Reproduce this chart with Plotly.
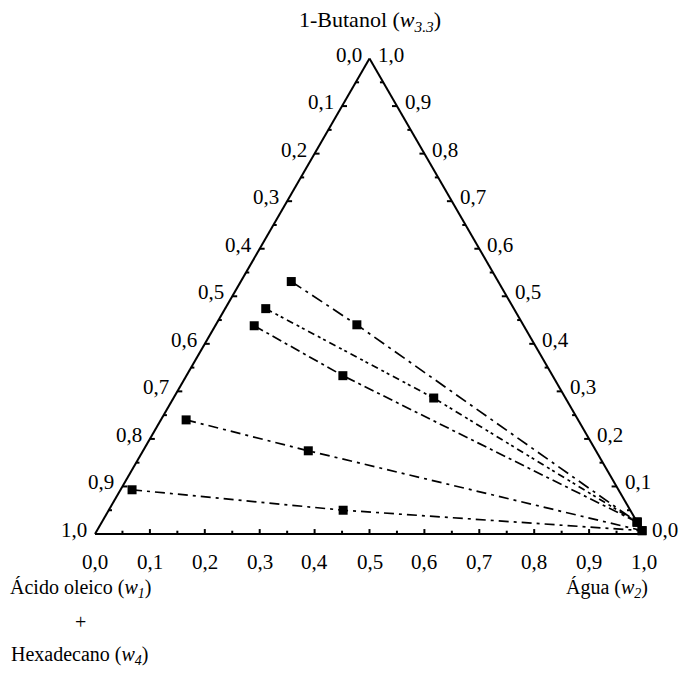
import math
import plotly.graph_objects as go

# Liquid-liquid equilibrium tie lines: mass fractions of water (w2) and 1-butanol (w3.3);
# the remainder is oleic acid + hexadecane (w1 + w4).
organic_w2 = [0.092, 0.074, 0.071, 0.046, 0.021]
organic_w3 = [0.531, 0.474, 0.438, 0.240, 0.093]
feed_w2 = [0.257, 0.474, 0.285, 0.301, 0.427]
feed_w3 = [0.440, 0.286, 0.333, 0.175, 0.050]
aqueous_w2 = [0.975, 0.975, 0.975, 0.993, 0.993]
aqueous_w3 = [0.025, 0.025, 0.025, 0.007, 0.007]

tie_dashes = ["12px,5px,3px,5px", "7px,4px,3px,3px,3px,4px", "10px,4px,3px,4px",
              "10px,5px,3px,5px", "10px,5px,3px,5px"]

tick_values = [i / 10 for i in range(11)]
tick_labels = ["0,0", "0,1", "0,2", "0,3", "0,4", "0,5", "0,6", "0,7", "0,8", "0,9", "1,0"]

H = math.sqrt(3) / 2
FONT = "Liberation Serif"
FS_TICK = 21
FS_TITLE = 22
FS_LABEL = 20


def to_xy(w2, w3):
    """Ternary composition -> Cartesian coordinates in the equilateral triangle."""
    return w2 + w3 / 2, w3 * H


fig = go.Figure()

# Triangle frame and inward ticks (every 0.05, longer at every 0.1)
fx, fy = [], []
for a, b in [((0, 0), (1, 0)), ((1, 0), (0, 1)), ((0, 1), (0, 0))]:
    x0, y0 = to_xy(*a)
    x1, y1 = to_xy(*b)
    fx += [x0, x1, None]
    fy += [y0, y1, None]
for k in range(1, 20):
    t = k / 20
    L = 0.009 if k % 2 == 0 else 0.006
    # bottom edge (water), vertical ticks
    x, y = to_xy(t, 0)
    fx += [x, x, None]
    fy += [y, y + L, None]
    # left edge (oleic acid): w2 = 0
    x, y = to_xy(0, 1 - t)
    fx += [x, x + L, None]
    fy += [y, y, None]
    # right edge (butanol): w1 = 0
    x, y = to_xy(1 - t, t)
    fx += [x, x - L, None]
    fy += [y, y, None]
fig.add_trace(go.Scatter(x=fx, y=fy, mode="lines", line=dict(color="black", width=2),
                         hoverinfo="skip", showlegend=False))

# Tie lines with organic, overall and aqueous compositions
for i in range(len(organic_w2)):
    w2s = [organic_w2[i], feed_w2[i], aqueous_w2[i]]
    w3s = [organic_w3[i], feed_w3[i], aqueous_w3[i]]
    pts = [to_xy(a, b) for a, b in zip(w2s, w3s)]
    fig.add_trace(go.Scatter(
        x=[p[0] for p in pts], y=[p[1] for p in pts], mode="lines+markers",
        line=dict(color="black", width=1.7, dash=tie_dashes[i]),
        marker=dict(symbol="square", size=9, color="black"),
        showlegend=False))

ann = []
for v, lab in zip(tick_values, tick_labels):
    # bottom: water fraction
    x, y = to_xy(v, 0)
    ann.append(dict(x=x, y=y, text=lab, xanchor="center", yanchor="middle", yshift=-28,
                    font=dict(size=FS_TICK)))
    # left: oleic acid + hexadecane fraction
    x, y = to_xy(0, 1 - v)
    ann.append(dict(x=x, y=y, text=lab, xanchor="right", yanchor="middle", xshift=-6, yshift=4,
                    font=dict(size=FS_TICK)))
    # right: butanol fraction
    x, y = to_xy(1 - v, v)
    ann.append(dict(x=x, y=y, text=lab, xanchor="left", yanchor="middle", xshift=6, yshift=4,
                    font=dict(size=FS_TICK)))

x, y = to_xy(0, 1)
ann.append(dict(x=x, y=y, text="1-Butanol (<i>w</i><sub><i>3.3</i></sub>)",
                xanchor="center", yanchor="middle", yshift=38, font=dict(size=FS_TITLE)))
x, y = to_xy(0, 0)
ann.append(dict(x=x, y=y, text="Ácido oleico (<i>w</i><sub><i>1</i></sub>)",
                xanchor="center", yanchor="middle", xshift=-15, yshift=-54,
                font=dict(size=FS_LABEL)))
ann.append(dict(x=x, y=y, text="+", xanchor="center", yanchor="middle", xshift=-15, yshift=-88,
                font=dict(size=FS_LABEL)))
ann.append(dict(x=x, y=y, text="Hexadecano (<i>w</i><sub><i>4</i></sub>)",
                xanchor="center", yanchor="middle", xshift=-15, yshift=-121,
                font=dict(size=FS_LABEL)))
x, y = to_xy(1, 0)
ann.append(dict(x=x, y=y, text="Água (<i>w</i><sub><i>2</i></sub>)",
                xanchor="center", yanchor="middle", xshift=-37, yshift=-54,
                font=dict(size=FS_LABEL)))

for a in ann:
    a.update(xref="x", yref="y", showarrow=False)
    a["font"].update(family=FONT, color="black")

W, Hpx = 694, 677
scale = 549.0
ox, oy = 95.0, 534.0
fig.update_layout(
    width=W, height=Hpx,
    margin=dict(l=0, r=0, t=0, b=0),
    paper_bgcolor="white", plot_bgcolor="white",
    xaxis=dict(range=[-ox / scale, (W - ox) / scale], visible=False, fixedrange=True),
    yaxis=dict(range=[-(Hpx - oy) / scale, oy / scale], visible=False, fixedrange=True),
    annotations=ann,
    font=dict(family=FONT, size=FS_TICK, color="black"),
)

fig.write_html("out.html")
